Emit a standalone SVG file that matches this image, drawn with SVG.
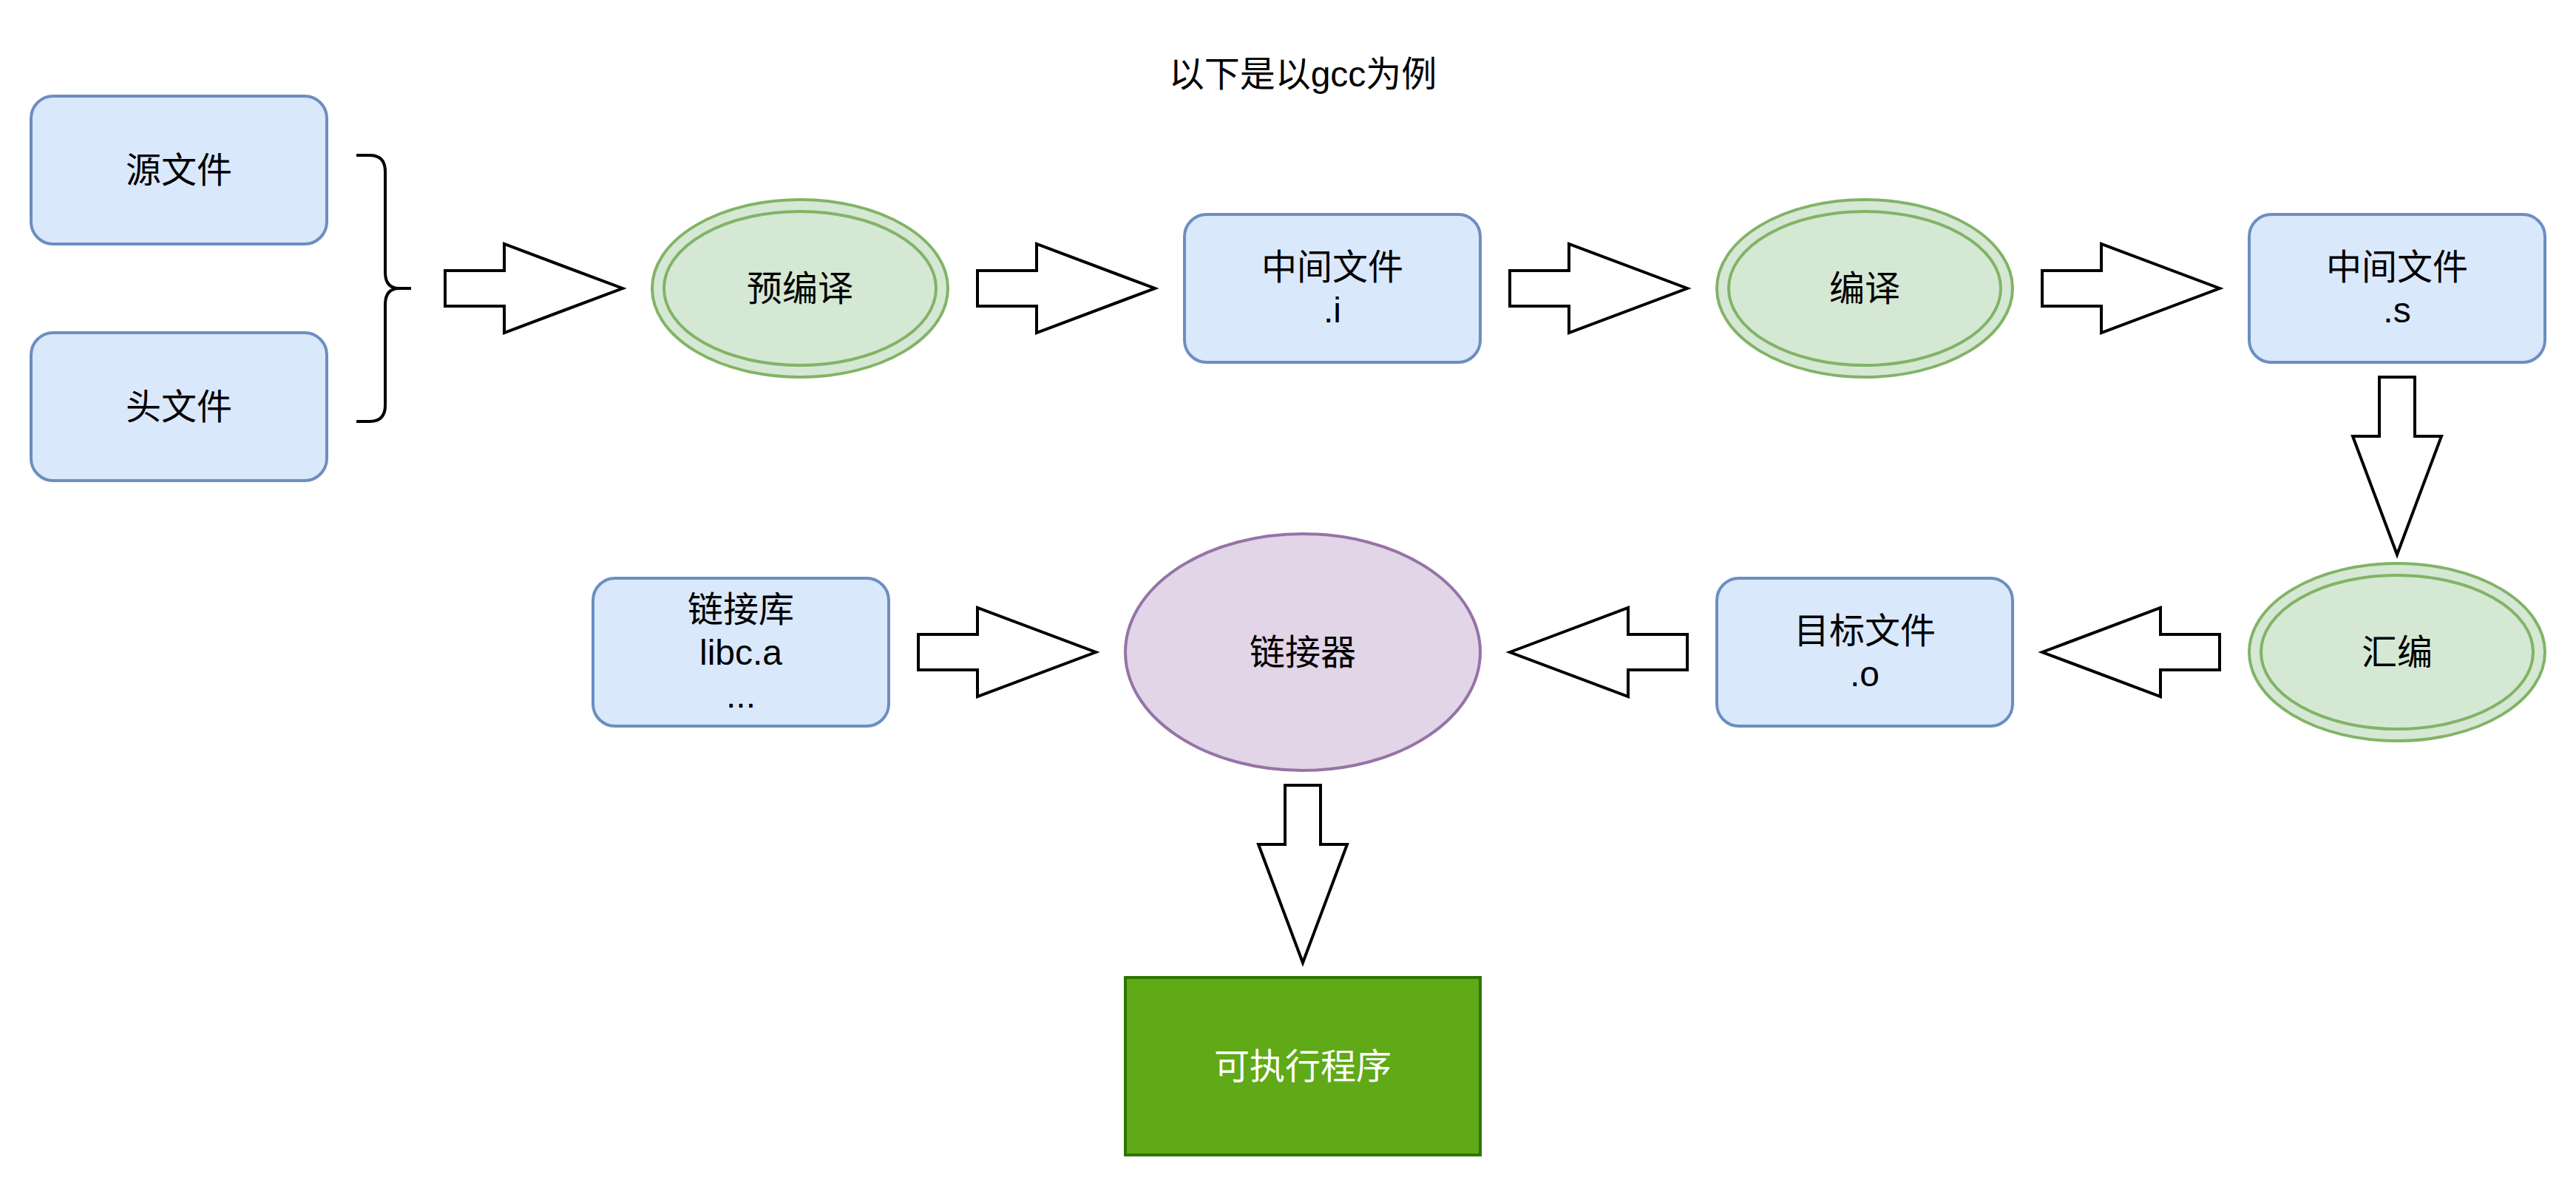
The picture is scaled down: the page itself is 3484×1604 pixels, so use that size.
<svg xmlns="http://www.w3.org/2000/svg" width="3484" height="1604" viewBox="0 0 3484 1604">
  <style>
    text { font-family: "Liberation Sans", "Noto Sans CJK SC", sans-serif; font-size: 48px; fill: #000000; text-anchor: middle; dominant-baseline: central; }
    .box { fill: #dae8fc; stroke: #6c8ebf; stroke-width: 4; }
    .green { fill: #d5e8d4; stroke: #82b366; stroke-width: 4; }
    .green2 { fill: none; stroke: #82b366; stroke-width: 4; }
    .purple { fill: #e1d5e7; stroke: #9673a6; stroke-width: 4; }
    .exe { fill: #60a917; stroke: #2d7600; stroke-width: 4; }
    .arrow { fill: #ffffff; stroke: #000000; stroke-width: 4; stroke-linejoin: miter; }
    .brace { fill: none; stroke: #000000; stroke-width: 4; }
    .white { fill: #ffffff; }
  </style>
  <rect width="3484" height="1604" fill="#ffffff"/>

  <g id="title">
    <text x="1762" y="100">以下是以gcc为例</text>
  </g>

  <g id="source">
    <rect class="box" x="42" y="130" width="400" height="200" rx="30" ry="30"/>
    <text x="242" y="230">源文件</text>
  </g>
  <g id="header">
    <rect class="box" x="42" y="450" width="400" height="200" rx="30" ry="30"/>
    <text x="242" y="550">头文件</text>
  </g>
  <g id="brace">
    <path class="brace" d="M482,210 H500 Q521,210 521,232 V368 Q521,390 540,390 H556 M540,390 Q521,390 521,412 V548 Q521,570 500,570 H482"/>
  </g>

  <g id="precompile">
    <ellipse class="green" cx="1082" cy="390" rx="200" ry="120"/>
    <ellipse class="green2" cx="1082" cy="390" rx="184" ry="104"/>
    <text x="1082" y="390">预编译</text>
  </g>
  <g id="file-i">
    <rect class="box" x="1602" y="290" width="400" height="200" rx="30" ry="30"/>
    <text x="1802" y="361">中间文件</text>
    <text x="1802" y="419">.i</text>
  </g>
  <g id="compile">
    <ellipse class="green" cx="2522" cy="390" rx="200" ry="120"/>
    <ellipse class="green2" cx="2522" cy="390" rx="184" ry="104"/>
    <text x="2522" y="390">编译</text>
  </g>
  <g id="file-s">
    <rect class="box" x="3042" y="290" width="400" height="200" rx="30" ry="30"/>
    <text x="3242" y="361">中间文件</text>
    <text x="3242" y="419">.s</text>
  </g>
  <g id="assemble">
    <ellipse class="green" cx="3242" cy="882" rx="200" ry="120"/>
    <ellipse class="green2" cx="3242" cy="882" rx="184" ry="104"/>
    <text x="3242" y="882">汇编</text>
  </g>
  <g id="file-o">
    <rect class="box" x="2322" y="782" width="400" height="200" rx="30" ry="30"/>
    <text x="2522" y="853">目标文件</text>
    <text x="2522" y="911">.o</text>
  </g>
  <g id="linker">
    <ellipse class="purple" cx="1762" cy="882" rx="240" ry="160"/>
    <text x="1762" y="882">链接器</text>
  </g>
  <g id="library">
    <rect class="box" x="802" y="782" width="400" height="200" rx="30" ry="30"/>
    <text x="1002" y="824">链接库</text>
    <text x="1002" y="882">libc.a</text>
    <text x="1002" y="940">...</text>
  </g>
  <g id="executable">
    <rect class="exe" x="1522" y="1322" width="480" height="240"/>
    <text class="white" x="1762" y="1442">可执行程序</text>
  </g>

  <g id="connectors">
    <!-- row 1 right arrows -->
    <polygon class="arrow" points="602,366 682,366 682,330 842,390 682,450 682,414 602,414"/>
    <polygon class="arrow" points="1322,366 1402,366 1402,330 1562,390 1402,450 1402,414 1322,414"/>
    <polygon class="arrow" points="2042,366 2122,366 2122,330 2282,390 2122,450 2122,414 2042,414"/>
    <polygon class="arrow" points="2762,366 2842,366 2842,330 3002,390 2842,450 2842,414 2762,414"/>
    <!-- down arrow .s -> assemble -->
    <polygon class="arrow" points="3218,510 3266,510 3266,590 3302,590 3242,750 3182,590 3218,590"/>
    <!-- row 2 left arrows -->
    <polygon class="arrow" points="2762,882 2922,822 2922,858 3002,858 3002,906 2922,906 2922,942"/>
    <polygon class="arrow" points="2042,882 2202,822 2202,858 2282,858 2282,906 2202,906 2202,942"/>
    <!-- library -> linker -->
    <polygon class="arrow" points="1242,858 1322,858 1322,822 1482,882 1322,942 1322,906 1242,906"/>
    <!-- linker -> executable -->
    <polygon class="arrow" points="1738,1062 1786,1062 1786,1142 1822,1142 1762,1302 1702,1142 1738,1142"/>
  </g>
</svg>
